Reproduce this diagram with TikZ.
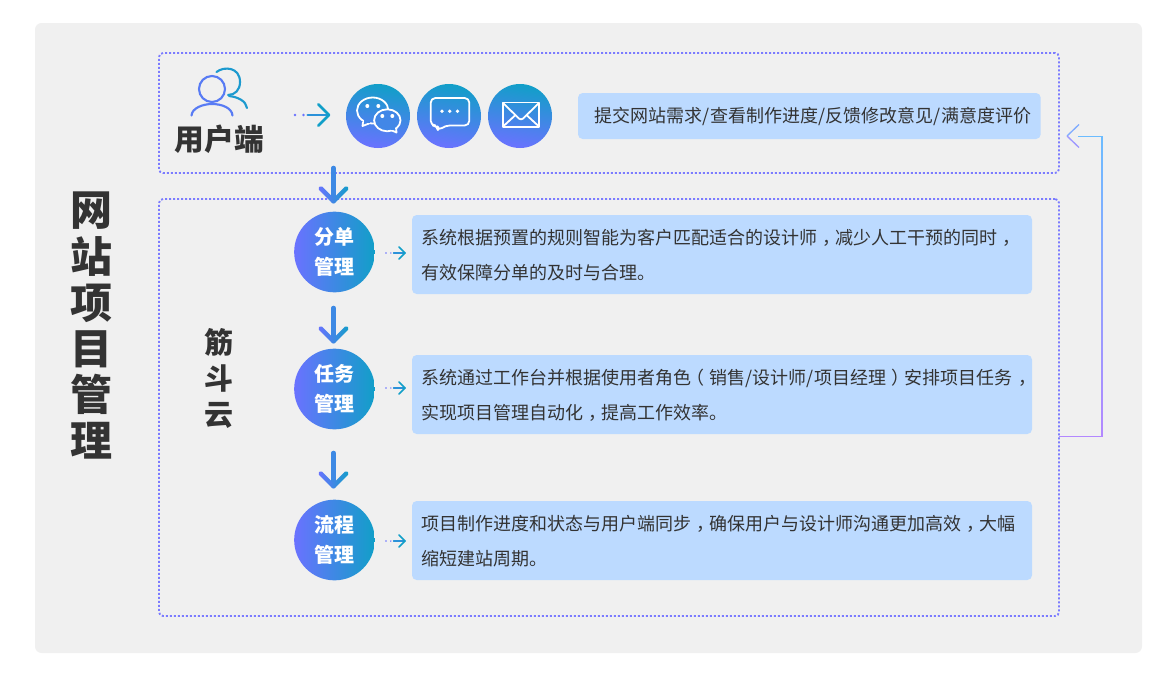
\documentclass[tikz,border=0pt]{standalone}
\usepackage{fontspec}
\setmainfont{Noto Sans CJK SC}
\usetikzlibrary{calc}
\definecolor{apurple}{HTML}{6A72FF}
\definecolor{ateal}{HTML}{119FC8}
\definecolor{amid}{HTML}{3D89E4}
\definecolor{panel}{HTML}{F0F0F0}
\definecolor{dotc}{HTML}{7B7BFF}
\definecolor{bluebox}{HTML}{BCDAFF}
\definecolor{ink}{HTML}{333333}
\definecolor{rettop}{HTML}{6CBCFF}
\definecolor{retbot}{HTML}{B388FF}
\newcommand{\gradarrow}[2]{%
  \draw[shaftline] (#1) -- (#2);
  \path[shift={(#2)},left color=apurple,right color=ateal,rounded corners=1.2pt]
    (0,3.4) -- (-15.8,-12.4) -- (-12.6,-15.6) -- (0,-3) -- (12.6,-15.6) -- (15.8,-12.4) -- cycle;
}
\newcommand{\dotarrow}[4]{% start, dot end, tip, head size
  \draw[line width=#4*0.15pt,apurple,line cap=round,dash pattern=on 0pt off #4*0.45pt] (#1) -- (#2);
  \draw[line width=#4*0.15pt,amid!60!ateal,line cap=round] ([xshift=#4*0.2pt]#2) -- (#3);
  \draw[line width=#4*0.15pt,ateal,line cap=round,line join=round]
    ([shift={(-#4*0.57pt,#4*0.57pt)}]#3) -- (#3) -- ([shift={(-#4*0.57pt,-#4*0.57pt)}]#3);
}
\newcommand{\cmm}{\makebox[1em][l]{\hspace{0.3em}，}}
\newcommand{\lpr}{\makebox[1em][l]{\hspace{-0.28em}（}}
\newcommand{\rpr}{\makebox[1em][l]{\hspace{0.28em}）}}
\newcommand{\lowr}[1]{\raisebox{-0.75pt}{#1}}
\tikzset{
  x=0.75pt,y=-0.75pt,
  dotbox/.style={draw=dotc,line width=1.4pt,dash pattern=on 1.5pt off 1.5pt,rounded corners=3pt,anchor=north west,inner sep=0pt,outer sep=0pt},
  bluepanel/.style={fill=bluebox,rounded corners=3.5pt,anchor=north west,inner sep=0pt,outer sep=0pt},
  bodytext/.style={text=ink,anchor=west,align=left,inner sep=0pt,font=\fontsize{13.5}{26.25}\selectfont},
  bigcircle/.style={circle,minimum size=60.5pt,inner sep=0pt,left color=apurple,right color=ateal,text=white,align=center,font=\fontsize{15}{22.5}\selectfont\bfseries},
  smallcircle/.style={circle,minimum size=48pt,inner sep=0pt,top color=ateal,bottom color=apurple,shading angle=-10},
  shaftline/.style={amid,line width=3.4pt,line cap=round},
  headline/.style={ink,font=\bfseries},
  iconline/.style={white,line width=1.35pt,line join=round},
}
\begin{document}
\begin{tikzpicture}
\useasboundingbox (0,0) rectangle (1162,678);
\fill[white] (0,0) rectangle (1162,678);
\fill[panel,rounded corners=5pt] (35,23) rectangle (1142,653);

% title
\node[headline,align=center,anchor=north,font=\fontsize{31.5}{34.6}\selectfont\bfseries] (title) at (91.5,187.5) {网\\站\\项\\目\\管\\理};
\node[headline,align=center,font=\fontsize{21.75}{27}\selectfont\bfseries] (jindou) at (219,378.5) {筋\\斗\\云};

% dotted frames
\node[dotbox,minimum width=675pt,minimum height=90pt] (frameA) at (159,53) {};
\node[dotbox,minimum width=675pt,minimum height=312.75pt] (frameB) at (159,199) {};

% user block
\node[headline,font=\fontsize{22.3}{26}\selectfont\bfseries] (userlabel) at (219.5,139) {用户端};
\begin{scope}[line width=1.6pt,line cap=round]
  \draw[ateal!75!amid] (216.5,72) .. controls (224,66) and (240,67) .. (240,82) .. controls (240,90) and (235,95) .. (228,95);
  \draw[ateal!75!amid] (229,96) .. controls (238,97) and (246,101) .. (247,108);
  \draw[apurple!60!amid] (212,89) circle (13);
  \draw[apurple!60!amid] (191.5,115.5) .. controls (192,108) and (203,104) .. (212,104) .. controls (222,104) and (232,108) .. (232.5,115.5);
\end{scope}
\coordinate (ua) at (295,115);
\coordinate (ub) at (304,115);
\coordinate (uc) at (329,115);
\dotarrow{ua}{ub}{uc}{14}

% icon discs
\node[smallcircle] (wechat) at (378,116) {};
\node[smallcircle] (chat) at (449,116) {};
\node[smallcircle] (mail) at (520,116) {};

% wechat glyph
\draw[iconline] (372.7,110.5) ellipse (15.7 and 13);
\draw[iconline,fill=amid!85!apurple,line join=round] (363,122) -- (362.5,126) -- (369,123.5);
\fill[amid!85!apurple] (364,120) -- (364,123) -- (370,123) -- (370,120) -- cycle;
\draw[iconline,fill=amid!90!apurple] (387.3,120.3) ellipse (13.2 and 11);
\draw[iconline,fill=amid!90!apurple] (392,130.5) -- (396.5,132.5) -- (396,127.5);
\fill[amid!90!apurple] (391,127) -- (395,127) -- (395,130) -- (391,130) -- cycle;
\foreach \p in {(367.3,106),(378.3,106),(382.3,116),(392.3,116)} \fill[white] \p circle (2);

% chat glyph
\draw[iconline,rounded corners=3.5pt] (445,125.5) -- (438,131) -- (437.5,125.5) -- (430.7,125.5) -- (430.7,98) -- (469.3,98) -- (469.3,125.5) -- cycle;
\foreach \x in {442,449.7,457.5} \fill[white] (\x,111.3) circle (1.9);

% mail glyph
\draw[iconline] (502.7,102.5) rectangle (539.3,127);
\draw[iconline,rounded corners=2pt] (503,103) -- (521,120.5) -- (539,103);
\draw[iconline] (503,126.5) -- (515,115.5);
\draw[iconline] (539,126.5) -- (527,115.5);

% top text panel
\node[bluepanel,minimum width=347pt,minimum height=34.5pt] (panelA) at (578,93) {};
\node[bodytext] (textA) at ([xshift=12pt]panelA.west) {提交网站需求/\hspace{0.5pt}查看制作进度/\hspace{0.5pt}反馈修改意见/\hspace{0.5pt}满意度评价};

% step discs
\node[bigcircle] (stepA) at (334.5,252) {\lowr{分单}\\\lowr{管理}};
\node[bigcircle] (stepB) at (334.5,389) {\lowr{任务}\\\lowr{管理}};
\node[bigcircle] (stepC) at (334.5,540) {\lowr{流程}\\\lowr{管理}};

% description panels
\node[bluepanel,minimum width=465pt,minimum height=59.25pt] (panelB) at (412,215) {};
\node[bluepanel,minimum width=465pt,minimum height=59.25pt] (panelC) at (412,355) {};
\node[bluepanel,minimum width=465pt,minimum height=59.25pt] (panelD) at (412,501) {};
\node[bodytext] (textB) at ([xshift=6.75pt,yshift=-0.75pt]panelB.west) {系统根据预置的规则智能为客户匹配适合的设计师\cmm 减少人工干预的同时\cmm\\有效保障分单的及时与合理。};
\node[bodytext] (textC) at ([xshift=6.75pt,yshift=-0.75pt]panelC.west) {系统通过工作台并根据使用者角色\lpr 销售/\hspace{0.5pt}设计师/\hspace{0.5pt}项目经理\rpr 安排项目任务\cmm\\实现项目管理自动化\cmm 提高工作效率。};
\node[bodytext] (textD) at ([xshift=6.75pt,yshift=-0.75pt]panelD.west) {项目制作进度和状态与用户端同步\cmm 确保用户与设计师沟通更加高效\cmm 大幅\\缩短建站周期。};

% small dotted arrows
\coordinate (sa1) at (386,253); \coordinate (sa2) at (391.5,253); \coordinate (sa3) at (405,253);
\coordinate (sb1) at (386,388); \coordinate (sb2) at (391.5,388); \coordinate (sb3) at (405,388);
\coordinate (sc1) at (386,541); \coordinate (sc2) at (391.5,541); \coordinate (sc3) at (405,541);
\dotarrow{sa1}{sa2}{sa3}{8}
\dotarrow{sb1}{sb2}{sb3}{8}
\dotarrow{sc1}{sc2}{sc3}{8}

% down arrows
\coordinate (d1s) at (333.5,168); \coordinate (d1t) at (333.5,201);
\coordinate (d2s) at (333.5,308); \coordinate (d2t) at (333.5,341);
\coordinate (d3s) at (333.5,453); \coordinate (d3t) at (333.5,486);
\gradarrow{d1s}{d1t}
\gradarrow{d2s}{d2t}
\gradarrow{d3s}{d3t}

% return connector
\coordinate (rowy) at (0,436.5);
\coordinate (retA) at (frameB.east |- rowy);
\coordinate (retB) at (1102,436.5);
\coordinate (retC) at (1102,136.5);
\coordinate (retD) at (1078,136.5);
\coordinate (retT) at (1067,136);
\draw[retbot,line width=0.75pt] (retA) -- ([xshift=0.375pt]retB);
\draw[rettop,line width=0.75pt] ([xshift=0.375pt]retC) -- (retD);
\shade[top color=rettop,bottom color=retbot] ([xshift=-0.375pt]retC) rectangle ([xshift=0.375pt]retB);
\draw[rettop!70!retbot,line width=1pt] (1079,124.5) -- (retT);
\draw[retbot!70!rettop,line width=1pt] (retT) -- (1079,147.5);
\end{tikzpicture}
\end{document}
